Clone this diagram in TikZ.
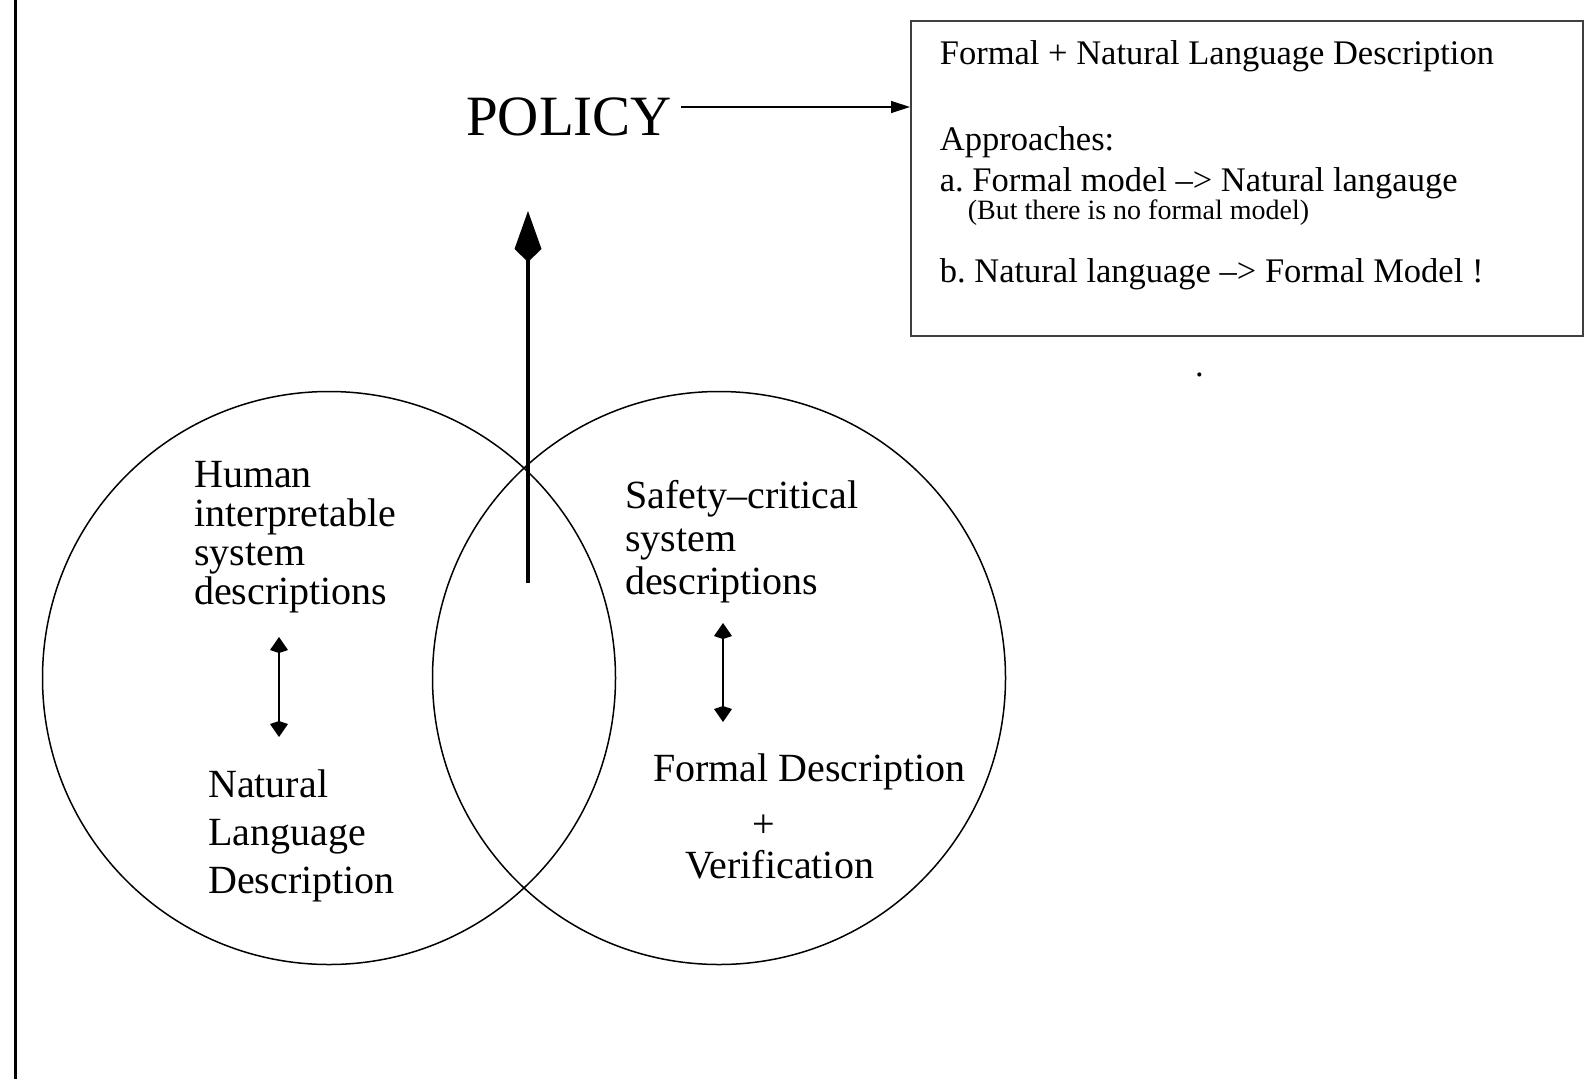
\documentclass[tikz,border=0pt]{standalone}
\usepackage{fontspec}
\setmainfont{Liberation Serif}
\usetikzlibrary{arrows.meta}
\frenchspacing
\begin{document}
\begin{tikzpicture}[x=1pt,y=-1pt,
  big/.style={inner sep=0pt, anchor=base west, font=\fontsize{40}{40}\selectfont},
  boxtxt/.style={inner sep=0pt, anchor=base west, font=\fontsize{34.5}{34.5}\selectfont},
  smalltxt/.style={inner sep=0pt, anchor=base west, font=\fontsize{28}{28}\selectfont},
  ring/.style={draw, circle, line width=1.5pt, inner sep=0pt, minimum size=573pt},
  duo/.style={line width=2.6pt, {Kite[length=16pt,width=18pt,inset=3pt]}-{Kite[length=16pt,width=18pt,inset=3pt]}},
  uparrow/.style={line width=3.2pt, -{Kite[length=51pt,width=27pt,inset=13pt]}},
  thinarrow/.style={line width=1.3pt, -{Triangle[length=19pt,width=12pt]}}
]
\useasboundingbox (0,0) rectangle (1584,1079);
\fill[white] (0,0) rectangle (1584,1079);

% frame line on the left
\draw[line width=3pt] (15,0) -- (15,1079);

% the two overlapping sets
\node[ring] (left) at (329,678) {};
\node[ring] (right) at (719,678) {};

% title and description box
\node[inner sep=0pt, anchor=base west, font=\fontsize{57}{57}\selectfont] (policy) at (466,135) {POLICY};
\node[draw=black!75, line width=1.5pt, inner sep=0pt, anchor=north west,
      minimum width=672pt, minimum height=315pt] (box) at (910,20) {};
\coordinate (boxin) at (910,107);
\coordinate (policyout) at (681,107);
\draw[thinarrow] (policyout) -- (boxin);

\node[boxtxt] (b1) at (939.7,64) {Formal + Natural Language Description};
\node[boxtxt] (b2) at (939.7,150) {Approaches:};
\node[boxtxt] (b3) at (939.7,191) {a. Formal model -->\ Natural langauge};
\node[smalltxt] (b4) at (967.6,219) {(But there is no formal model)};
\node[boxtxt] (b5) at (939.7,282) {b. Natural language -->\ Formal Model !};
\node[boxtxt] (dot) at (1195,376) {.};

% arrow from the overlap up towards the policy
\coordinate (overlap) at (528,583);
\coordinate (uptip) at (528,211);
\draw[uparrow] (overlap) -- (uptip);

% left set
\node[big] (h1) at (194,487) {Human};
\node[big] (h2) at (194,526) {interpretable};
\node[big] (h3) at (194,565) {system};
\node[big] (h4) at (194,604) {descriptions};
\coordinate (la) at (279,637);
\coordinate (lb) at (279,737);
\draw[duo] (la) -- (lb);
\node[big] (n1) at (208,797) {Natural};
\node[big] (n2) at (208,845) {Language};
\node[big] (n3) at (208,893) {Description};

% right set
\node[big] (s1) at (625,508) {Safety--critical};
\node[big] (s2) at (625,551) {system};
\node[big] (s3) at (625,594) {descriptions};
\coordinate (ra) at (723,623);
\coordinate (rb) at (723,722);
\draw[duo] (ra) -- (rb);
\node[big] (f1) at (653,781) {Formal Description};
\node[big, anchor=base] (f2) at (764,837) {+};
\node[big] (f3) at (685,878) {Verification};
\end{tikzpicture}
\end{document}
